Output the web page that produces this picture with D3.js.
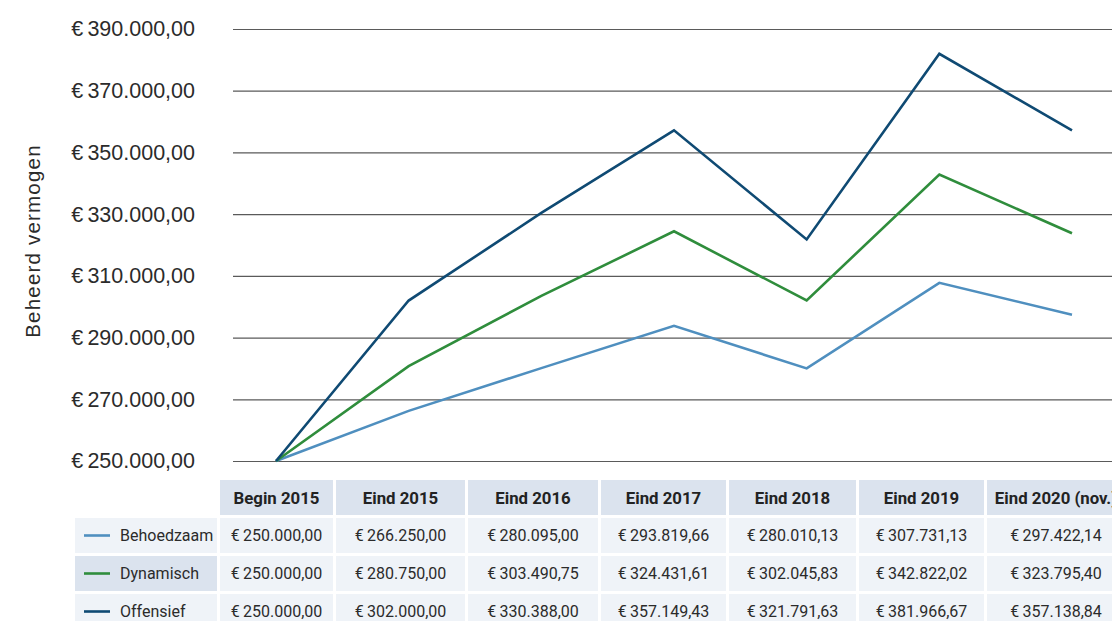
<!DOCTYPE html>
<html>
<head>
<meta charset="utf-8">
<script src="https://cdn.jsdelivr.net/npm/d3@7"></script>
<style>
  body { margin: 0; background: #fff; overflow: hidden; }
  svg { display: block; }
</style>
</head>
<body>
<svg id="chart" width="1112" height="621"></svg>
<script>
// periods and portfolio values
const periods = ["Begin 2015", "Eind 2015", "Eind 2016", "Eind 2017", "Eind 2018", "Eind 2019", "Eind 2020 (nov.)"]
const behoedzaam = [250000.00, 266250.00, 280095.00, 293819.66, 280010.13, 307731.13, 297422.14]
const dynamisch = [250000.00, 280750.00, 303490.75, 324431.61, 302045.83, 342822.02, 323795.40]
const offensief = [250000.00, 302000.00, 330388.00, 357149.43, 321791.63, 381966.67, 357138.84]
const yTicks = [250000, 270000, 290000, 310000, 330000, 350000, 370000, 390000]

const series = [
  {name: "Behoedzaam", values: behoedzaam, color: "#4f8fbf"},
  {name: "Dynamisch", values: dynamisch, color: "#2f8d3c"},
  {name: "Offensief", values: offensief, color: "#0f4a73"}
]

const nl = d3.formatLocale({decimal: ",", thousands: ".", grouping: [3], currency: ["€\u2009", ""]})
const euro = nl.format("$,.2f")

const svg = d3.select("#chart")

let x = d3.scalePoint().domain(periods).range([276, 1072])
let y = d3.scaleLinear().domain([250000, 390000]).range([461, 29])

// y axis + gridlines
let yAxis = d3.axisLeft(y)
  .tickValues(yTicks)
  .tickSizeInner(-(1112 - 233))
  .tickSizeOuter(0)
  .tickPadding(38)
  .tickFormat(euro)

let gy = svg.append("g")
  .attr("transform", "translate(233,0)")
  .call(yAxis)
gy.select(".domain").remove()
gy.selectAll(".tick line").attr("stroke", "#5a5a5a").attr("stroke-width", 1.2)
gy.selectAll(".tick text")
  .attr("fill", "#2b2b2b")
  .style("font-family", "'Liberation Sans', Arial, sans-serif")
  .style("font-size", "21.5px")

svg.append("text")
  .attr("transform", "translate(40,241) rotate(-90)")
  .attr("text-anchor", "middle")
  .attr("fill", "#2b2b2b")
  .style("font-family", "'Liberation Sans', Arial, sans-serif")
  .style("font-size", "20.5px")
  .style("letter-spacing", "1.2px")
  .text("Beheerd vermogen")

// lines
let line = d3.line()
  .x((d, i) => x(periods[i]))
  .y(d => y(d))

svg.append("g")
  .selectAll("path")
  .data(series).enter()
  .append("path")
  .attr("d", d => line(d.values))
  .attr("fill", "none")
  .attr("stroke", d => d.color)
  .attr("stroke-width", 2.6)
  .attr("stroke-linejoin", "miter")

// data table
const colEdges = [[220, 333], [336, 465], [468, 598], [601, 726], [729, 856], [859, 984], [987, 1125]]
const rowEdges = [[480, 515], [518, 553], [556, 591], [594, 629]]
const labelCol = [75, 217]
const headFill = "#dbe3ee", cellFill = "#eff3f8"

let table = svg.append("g").style("font-family", "Roboto, sans-serif")

// header
let head = table.selectAll(".head")
  .data(periods).enter()
  .append("g").attr("class", "head")
head.append("rect")
  .attr("x", (d, i) => colEdges[i][0])
  .attr("y", rowEdges[0][0])
  .attr("width", (d, i) => colEdges[i][1] - colEdges[i][0])
  .attr("height", rowEdges[0][1] - rowEdges[0][0])
  .attr("fill", headFill)
head.append("text")
  .attr("x", (d, i) => (colEdges[i][0] + colEdges[i][1]) / 2)
  .attr("y", (rowEdges[0][0] + rowEdges[0][1]) / 2)
  .attr("dy", "0.36em")
  .attr("text-anchor", "middle")
  .attr("fill", "#222")
  .style("font-weight", "bold")
  .style("font-size", "16.8px")
  .text(d => d)

// body rows
let rows = table.selectAll(".row")
  .data(series).enter()
  .append("g").attr("class", "row")
  .attr("transform", (d, i) => `translate(0,${rowEdges[i + 1][0]})`)

rows.append("rect")
  .attr("x", labelCol[0])
  .attr("width", labelCol[1] - labelCol[0])
  .attr("height", (d, i) => rowEdges[i + 1][1] - rowEdges[i + 1][0])
  .attr("fill", d => d.name == "Dynamisch" ? headFill : cellFill)
rows.append("line")
  .attr("x1", 84).attr("x2", 110)
  .attr("y1", 17.5).attr("y2", 17.5)
  .attr("stroke", d => d.color)
  .attr("stroke-width", 2.6)
rows.append("text")
  .attr("x", 120).attr("y", 17.5).attr("dy", "0.36em")
  .attr("fill", "#2b2b2b")
  .style("font-size", "16px")
  .text(d => d.name)

rows.each(function(s, r) {
  let cells = d3.select(this).selectAll(".cell")
    .data(s.values).enter()
    .append("g").attr("class", "cell")
  cells.append("rect")
    .attr("x", (d, i) => colEdges[i][0])
    .attr("width", (d, i) => colEdges[i][1] - colEdges[i][0])
    .attr("height", rowEdges[r + 1][1] - rowEdges[r + 1][0])
    .attr("fill", cellFill)
  cells.append("text")
    .attr("x", (d, i) => (colEdges[i][0] + colEdges[i][1]) / 2)
    .attr("y", 17.5).attr("dy", "0.36em")
    .attr("text-anchor", "middle")
    .attr("fill", "#2b2b2b")
    .style("font-size", "16px")
    .text(d => euro(d))
})
</script>
</body>
</html>
